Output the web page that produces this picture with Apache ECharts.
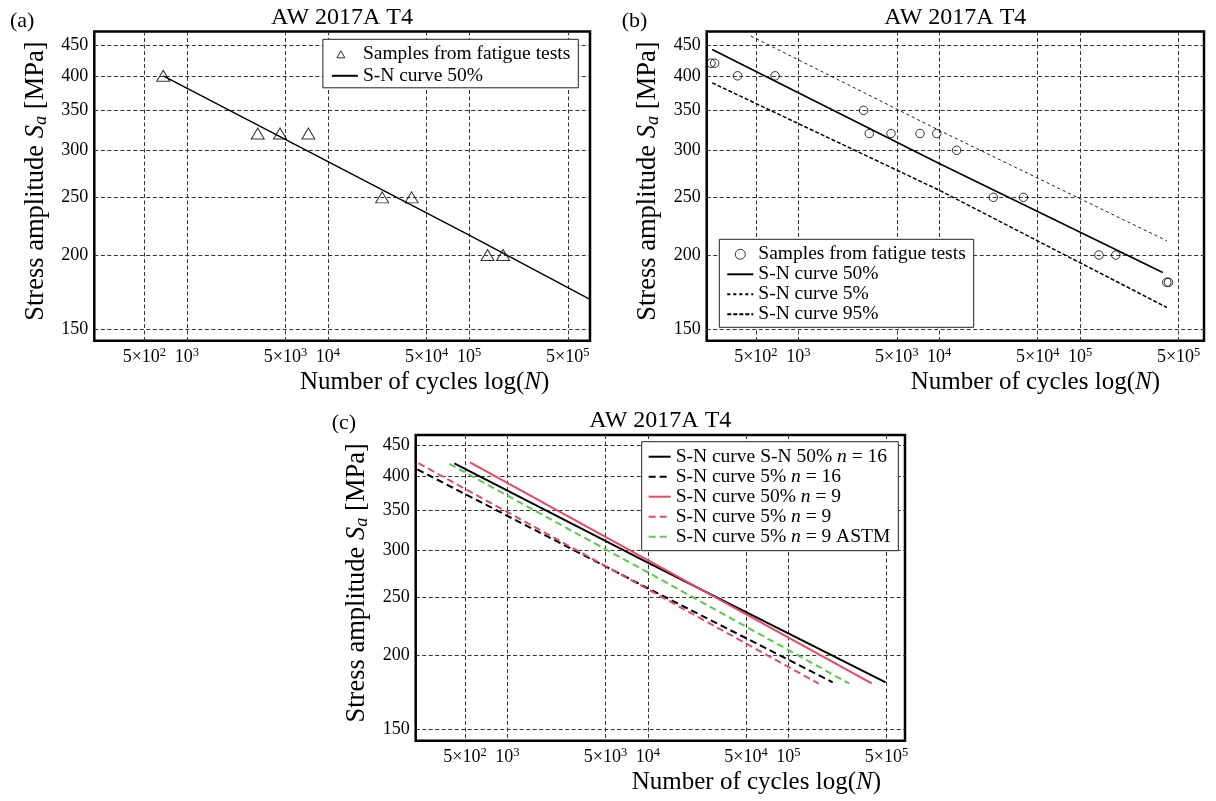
<!DOCTYPE html>
<html>
<head>
<meta charset="utf-8">
<script src="https://cdn.jsdelivr.net/npm/echarts@6/dist/echarts.min.js"></script>
<style>
  html, body { margin: 0; padding: 0; background: #fff; }
  #chart { width: 1216px; height: 801px; }
</style>
</head>
<body>
<div id="chart"></div>
<script>
// ---- shared axis ticks ----
const panelTitle = 'AW 2017A T4';
const xTickValues = [500, 1000, 5000, 10000, 50000, 100000, 500000];
const xTickLabels = ['5×10^2', '10^3', '5×10^3', '10^4', '5×10^4', '10^5', '5×10^5'];
const yTickValues = [150, 200, 250, 300, 350, 400, 450];

// ---- (a) fatigue test samples and median S-N curve ----
const samplesA_N = [680, 3180, 4570, 7260, 24200, 39100, 135000, 174000];
const samplesA_S = [400, 320, 320, 320, 250, 250, 200, 200];
const curve50A_N = [680, 10000, 100000, 718000];
const curve50A_S = [400, 287, 216, 168.5];

// ---- (b) all samples with 50 %, 5 % and 95 % curves ----
const samplesB_N = [240, 255, 371, 685, 2910, 3190, 4550, 7310, 9610, 13300, 24200, 39600, 136000, 179000, 412000, 424000];
const samplesB_S = [420, 420, 400, 400, 350, 320, 320, 320, 320, 300, 250, 250, 200, 200, 180, 180];
const curve50B_N = [245, 10000, 386000];
const curve50B_S = [443, 285, 187];
const curve5B_N = [461, 10000, 412600];
const curve5B_S = [466.6, 324, 211.3];
const curve95B_N = [245, 10000, 412600];
const curve95B_S = [389.3, 257, 163.3];

// ---- (c) curve comparison, n = 16 vs n = 9 ----
const c50n16_N = [420, 10000, 493000];
const c50n16_S = [419.6, 286, 180];
const c5n16_N = [229, 10000, 207000];
const c5n16_S = [410, 259, 180];
const c50n9_N = [543, 10000, 392000];
const c50n9_S = [421.3, 288.7, 179.2];
const c5n9_N = [233, 10000, 165000];
const c5n9_S = [420, 258, 179];
const c5n9astm_N = [387, 10000, 272000];
const c5n9astm_S = [419, 275.4, 179];

const FONT = "'Liberation Serif', 'Times New Roman', serif";
const RED = '#e34b64';
const GREEN = '#5cc94a';

const pairs = (xs, ys) => xs.map((x, i) => [x, ys[i]]);
const supLabel = s => s.replace(/^(.*)\^(\d+)$/, '{b|$1}{s|$2}');
const xLabelFor = v => {
  const i = xTickValues.findIndex(t => Math.abs(Math.log10(t) - Math.log10(v)) < 1e-6);
  return i < 0 ? '' : supLabel(xTickLabels[i]);
};
// legend entries carry a panel prefix so names stay unique across panels
const stripPrefix = name => name.replace(/^\([abc]\)\s/, '').replace(/ n=(\d+)/, ' {i|n} = $1');

const gridRect = [
  { left: 94.3, top: 31.5, width: 495.7, height: 309.2 },
  { left: 706.7, top: 31.5, width: 497.3, height: 309.2 },
  { left: 415.7, top: 435, width: 489.3, height: 305.7 }
];
const xRange = [[221, 718000], [224, 757000], [223, 677000]];
const yRange = [[143.6, 474.8], [143.6, 474.8], [143.6, 468.4]];
const xNameShift = [165, 160, 192];

const gridLineStyle = { color: '#333', width: 1, type: [4, 2.5] };

const grids = gridRect.map(r => Object.assign({
  show: true, borderColor: '#000', borderWidth: 2.5, backgroundColor: 'transparent',
  containLabel: false, outerBoundsMode: 'none'
}, r));

const xAxes = gridRect.map((r, i) => ({
  type: 'log', logBase: 10, gridIndex: i,
  min: xRange[i][0], max: xRange[i][1],
  axisLine: { show: false },
  axisTick: { show: false, customValues: xTickValues },
  minorTick: { show: false }, minorSplitLine: { show: false },
  axisLabel: {
    customValues: xTickValues, formatter: xLabelFor, margin: 6, color: '#000',
    rich: {
      b: { fontFamily: FONT, fontSize: 18, color: '#000', lineHeight: 22 },
      s: { fontFamily: FONT, fontSize: 12.5, color: '#000', lineHeight: 12, verticalAlign: 'top' }
    }
  },
  splitLine: { show: true, lineStyle: gridLineStyle },
  name: 'Number of cycles log({i|N})',
  nameLocation: 'middle', nameGap: 27.5, nameMoveOverlap: false,
  nameTextStyle: {
    fontFamily: FONT, fontSize: 25, color: '#000', lineHeight: 28,
    padding: [0, 0, 0, xNameShift[i]],
    rich: { i: { fontFamily: FONT, fontSize: 25, fontStyle: 'italic', color: '#000', lineHeight: 28 } }
  }
}));

const yAxes = gridRect.map((r, i) => ({
  type: 'log', logBase: 10, gridIndex: i,
  min: yRange[i][0], max: yRange[i][1],
  axisLine: { show: false },
  axisTick: { show: false, customValues: yTickValues },
  minorTick: { show: false }, minorSplitLine: { show: false },
  axisLabel: { customValues: yTickValues, margin: 6, color: '#000', fontFamily: FONT, fontSize: 18 },
  splitLine: { show: true, lineStyle: gridLineStyle },
  name: 'Stress amplitude {i|S}{sub|a} [MPa]',
  nameLocation: 'middle', nameGap: 44, nameMoveOverlap: false,
  nameTextStyle: {
    fontFamily: FONT, fontSize: 26.5, color: '#000', lineHeight: 29,
    padding: [0, 0, 0, 10],
    rich: {
      i: { fontFamily: FONT, fontSize: 26.5, fontStyle: 'italic', color: '#000', lineHeight: 29 },
      sub: { fontFamily: FONT, fontSize: 18.5, fontStyle: 'italic', color: '#000', lineHeight: 16, verticalAlign: 'bottom' }
    }
  }
}));

const hollow = { color: 'rgba(0,0,0,0)', borderColor: '#000', borderWidth: 1 };
// line entries in the legends show only their stroke
const noMarker = { color: 'rgba(0,0,0,0)', borderWidth: 0, opacity: 0 };
// small open triangle for the legend, drawn inside a 26 x 10 icon box
const legendTriangle = 'path://M0,0M26,10M9,1.5L5,8.5L13,8.5Z';

const lineSeries = (name, gi, data, style) => ({
  name, type: 'line', xAxisIndex: gi, yAxisIndex: gi, data,
  symbol: 'none', showSymbol: false, smooth: false, z: 4,
  itemStyle: { color: style.color },
  lineStyle: style, emphasis: { disabled: true }
});

const series = [
  {
    name: '(a) Samples from fatigue tests', type: 'scatter', xAxisIndex: 0, yAxisIndex: 0,
    data: pairs(samplesA_N, samplesA_S), symbol: 'triangle', symbolSize: [13, 11],
    itemStyle: hollow, z: 5, emphasis: { disabled: true }
  },
  lineSeries('(a) S-N curve 50%', 0, pairs(curve50A_N, curve50A_S), { color: '#000', width: 1.4 }),

  {
    name: '(b) Samples from fatigue tests', type: 'scatter', xAxisIndex: 1, yAxisIndex: 1,
    data: pairs(samplesB_N, samplesB_S), symbol: 'circle', symbolSize: 8.5,
    itemStyle: hollow, z: 5, emphasis: { disabled: true }
  },
  lineSeries('(b) S-N curve 50%', 1, pairs(curve50B_N, curve50B_S), { color: '#000', width: 1.6 }),
  lineSeries('(b) S-N curve 5%', 1, pairs(curve5B_N, curve5B_S), { color: '#000', width: 0.9, type: [3, 3] }),
  lineSeries('(b) S-N curve 95%', 1, pairs(curve95B_N, curve95B_S), { color: '#000', width: 1.5, type: [4, 2] }),

  lineSeries('(c) S-N curve S-N 50% n=16', 2, pairs(c50n16_N, c50n16_S), { color: '#000', width: 2 }),
  lineSeries('(c) S-N curve 5% n=16', 2, pairs(c5n16_N, c5n16_S), { color: '#000', width: 2, type: [7, 4] }),
  lineSeries('(c) S-N curve 50% n=9', 2, pairs(c50n9_N, c50n9_S), { color: RED, width: 2 }),
  lineSeries('(c) S-N curve 5% n=9', 2, pairs(c5n9_N, c5n9_S), { color: RED, width: 2, type: [7, 4] }),
  lineSeries('(c) S-N curve 5% n=9 ASTM', 2, pairs(c5n9astm_N, c5n9astm_S), { color: GREEN, width: 2, type: [7, 4] })
];

const legendBase = {
  orient: 'vertical', selectedMode: false, symbolKeepAspect: true,
  backgroundColor: '#fff', borderColor: '#222', borderWidth: 1, borderRadius: 0,
  itemHeight: 10, formatter: stripPrefix,
  textStyle: {
    fontFamily: FONT, fontSize: 19.5, color: '#000',
    rich: { i: { fontFamily: FONT, fontSize: 19.5, fontStyle: 'italic', color: '#000' } }
  }
};

const lineEntry = name => ({ name, itemStyle: noMarker });

const legends = [
  Object.assign({}, legendBase, {
    right: 637.7, top: 39.3, padding: [5, 8, 2, 8], itemGap: 1.5, itemWidth: 26,
    data: [
      { name: '(a) Samples from fatigue tests', icon: legendTriangle, itemStyle: hollow },
      lineEntry('(a) S-N curve 50%')
    ]
  }),
  Object.assign({}, legendBase, {
    left: 719.3, top: 239.3, padding: [5, 8, 3, 7], itemGap: 0, itemWidth: 26,
    data: [
      { name: '(b) Samples from fatigue tests', itemStyle: hollow },
      lineEntry('(b) S-N curve 50%'), lineEntry('(b) S-N curve 5%'), lineEntry('(b) S-N curve 95%')
    ]
  }),
  Object.assign({}, legendBase, {
    right: 317.7, top: 441.7, padding: [5, 8, 4, 6], itemGap: 0, itemWidth: 22,
    data: [
      '(c) S-N curve S-N 50% n=16', '(c) S-N curve 5% n=16', '(c) S-N curve 50% n=9',
      '(c) S-N curve 5% n=9', '(c) S-N curve 5% n=9 ASTM'
    ].map(lineEntry)
  })
];

const textEl = (text, x, y, size, align) => ({
  type: 'text', x, y, silent: true,
  style: { text, fill: '#000', font: size + 'px ' + FONT, align, verticalAlign: 'middle' }
});

const graphic = [
  textEl(panelTitle, 342, 17.5, 24, 'center'),
  textEl(panelTitle, 955.3, 17.5, 24, 'center'),
  textEl(panelTitle, 660.3, 421, 24, 'center'),
  textEl('(a)', 10, 21, 22, 'left'),
  textEl('(b)', 621.7, 21, 22, 'left'),
  textEl('(c)', 331.7, 423, 22, 'left')
];

const chart = echarts.init(document.getElementById('chart'), null, { renderer: 'canvas' });
chart.setOption({
  animation: false,
  backgroundColor: '#fff',
  grid: grids,
  xAxis: xAxes,
  yAxis: yAxes,
  legend: legends,
  series,
  graphic
});
</script>
</body>
</html>
